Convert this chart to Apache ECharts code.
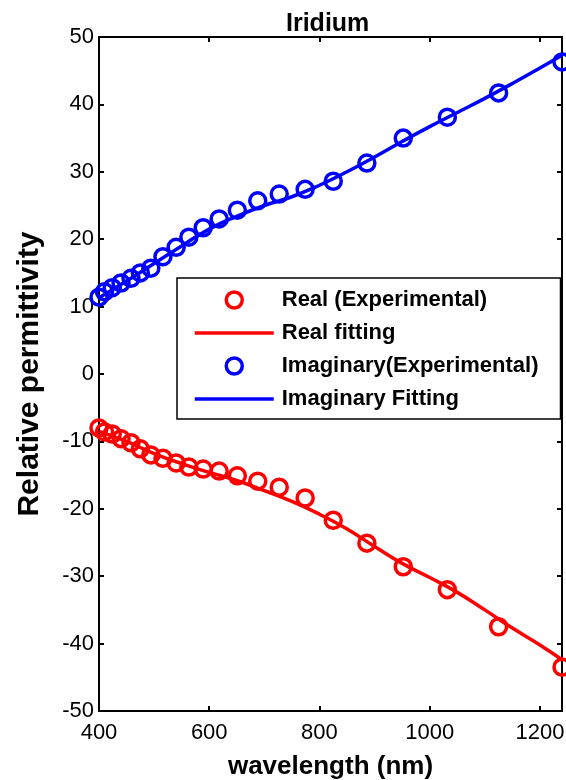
<!DOCTYPE html>
<html>
<head>
<meta charset="utf-8">
<script src="https://cdn.jsdelivr.net/npm/echarts@6/dist/echarts.min.js"></script>
<style>
html,body{margin:0;padding:0;background:#fff;}
#chart{width:566px;height:780px;}
</style>
</head>
<body>
<div id="chart"></div>
<script>
// Experimental wavelengths (nm)
const wavelength = [400, 410, 424, 440, 458, 475, 494, 516, 540, 563, 589, 618, 651, 688, 727, 774, 825, 886, 952, 1032, 1125, 1240];
const realExp = [-8.0, -8.6, -8.9, -9.6, -10.2, -11.1, -12.0, -12.5, -13.2, -13.8, -14.1, -14.4, -15.1, -15.9, -16.8, -18.4, -21.7, -25.1, -28.6, -32.0, -37.5, -43.5];
const imagExp = [11.4, 12.2, 12.8, 13.5, 14.2, 15.0, 15.7, 17.4, 18.8, 20.3, 21.7, 23.0, 24.3, 25.7, 26.7, 27.4, 28.6, 31.3, 35.0, 38.1, 41.7, 46.3];
// Fitting curves
const fitWavelength = [400, 450, 500, 550, 600, 650, 700, 750, 800, 850, 900, 950, 1000, 1050, 1100, 1150, 1200, 1240];
const realFit = [-8.5, -10.0, -11.8, -13.3, -14.6, -15.8, -17.3, -18.9, -20.8, -23.0, -25.6, -28.1, -30.2, -32.4, -35.0, -37.7, -40.2, -42.4];
const imagFit = [11.3, 13.8, 16.4, 19.0, 21.5, 23.4, 25.0, 26.3, 28.0, 30.0, 32.2, 34.5, 36.7, 38.8, 40.9, 43.1, 45.4, 47.3];
const xTicks = [400, 600, 800, 1000, 1200];
const seriesNames = ['Real (Experimental)', 'Real fitting', 'Imaginary(Experimental)', 'Imaginary Fitting'];

const FONT = "'Liberation Sans', Arial, sans-serif";
const zip = (xs, ys) => xs.map((x, i) => [x, ys[i]]);

const chart = echarts.init(document.getElementById('chart'), null, {renderer: 'canvas'});
const axisLineStyle = {color: '#000', width: 2};
const tickStyle = {color: '#000', width: 2};

chart.setOption({
  animation: false,
  backgroundColor: '#fff',
  title: {
    text: 'Iridium',
    left: 281, top: 7,
    textStyle: {fontFamily: FONT, fontWeight: 'bold', fontSize: 25, color: '#000'}
  },
  grid: {left: 99, right: 4, top: 37, bottom: 69, containLabel: false, outerBoundsMode: 'none'},
  legend: {
    orient: 'vertical',
    left: 177, top: 278,
    padding: [10, 22, 8, 16],
    itemGap: 9,
    itemWidth: 79, itemHeight: 16,
    backgroundColor: '#fff',
    borderColor: '#000', borderWidth: 1.5,
    textStyle: {fontFamily: FONT, fontWeight: 'bold', fontSize: 22, color: '#000', lineHeight: 24, padding: [0, 0, 0, 3]},
    data: [
      {name: seriesNames[0], icon: 'circle', itemStyle: {color: '#fff', borderColor: '#ff0000', borderWidth: 3.5, opacity: 1}},
      {name: seriesNames[1], itemStyle: {color: 'rgba(0,0,0,0)', borderWidth: 0}, lineStyle: {color: '#ff0000', width: 3.5}},
      {name: seriesNames[2], icon: 'circle', itemStyle: {color: '#fff', borderColor: '#0000ff', borderWidth: 3.5, opacity: 1}},
      {name: seriesNames[3], itemStyle: {color: 'rgba(0,0,0,0)', borderWidth: 0}, lineStyle: {color: '#0000ff', width: 3.5}}
    ]
  },
  xAxis: [{
    type: 'value', min: 400, max: 1240, interval: 200, position: 'bottom',
    name: 'wavelength (nm)', nameLocation: 'middle', nameGap: 43,
    nameTextStyle: {fontFamily: FONT, fontWeight: 'bold', fontSize: 26, color: '#000'},
    axisLine: {show: true, onZero: false, lineStyle: axisLineStyle},
    axisTick: {show: true, inside: true, length: 5, lineStyle: tickStyle},
    axisLabel: {fontFamily: FONT, fontSize: 22, color: '#000', margin: 11,
      formatter: v => xTicks.includes(v) ? String(v) : ''},
    splitLine: {show: false}
  }, {
    type: 'value', min: 400, max: 1240, interval: 200, position: 'top',
    axisLine: {show: true, onZero: false, lineStyle: axisLineStyle},
    axisTick: {show: true, inside: true, length: 5, lineStyle: tickStyle},
    axisLabel: {show: false}, splitLine: {show: false}
  }],
  yAxis: [{
    type: 'value', min: -50, max: 50, interval: 10, position: 'left',
    name: 'Relative permittivity', nameLocation: 'middle', nameGap: 54, nameRotate: 90,
    nameTextStyle: {fontFamily: FONT, fontWeight: 'bold', fontSize: 30, color: '#000'},
    axisLine: {show: true, onZero: false, lineStyle: axisLineStyle},
    axisTick: {show: true, inside: true, length: 5, lineStyle: tickStyle},
    axisLabel: {fontFamily: FONT, fontSize: 22, color: '#000', margin: 5},
    splitLine: {show: false}
  }, {
    type: 'value', min: -50, max: 50, interval: 10, position: 'right',
    axisLine: {show: true, onZero: false, lineStyle: axisLineStyle},
    axisTick: {show: true, inside: true, length: 5, lineStyle: tickStyle},
    axisLabel: {show: false}, splitLine: {show: false}
  }],
  series: [{
    name: seriesNames[0], type: 'scatter', data: zip(wavelength, realExp),
    symbol: 'circle', symbolSize: 16,
    itemStyle: {color: 'rgba(255,255,255,0)', borderColor: '#ff0000', borderWidth: 3.5, opacity: 1}
  }, {
    name: seriesNames[1], type: 'line', data: zip(fitWavelength, realFit),
    symbol: 'none', smooth: true,
    lineStyle: {color: '#ff0000', width: 3.5}, itemStyle: {color: '#ff0000'}
  }, {
    name: seriesNames[2], type: 'scatter', data: zip(wavelength, imagExp),
    symbol: 'circle', symbolSize: 16,
    itemStyle: {color: 'rgba(255,255,255,0)', borderColor: '#0000ff', borderWidth: 3.5, opacity: 1}
  }, {
    name: seriesNames[3], type: 'line', data: zip(fitWavelength, imagFit),
    symbol: 'none', smooth: true,
    lineStyle: {color: '#0000ff', width: 3.5}, itemStyle: {color: '#0000ff'}
  }]
});
</script>
</body>
</html>
